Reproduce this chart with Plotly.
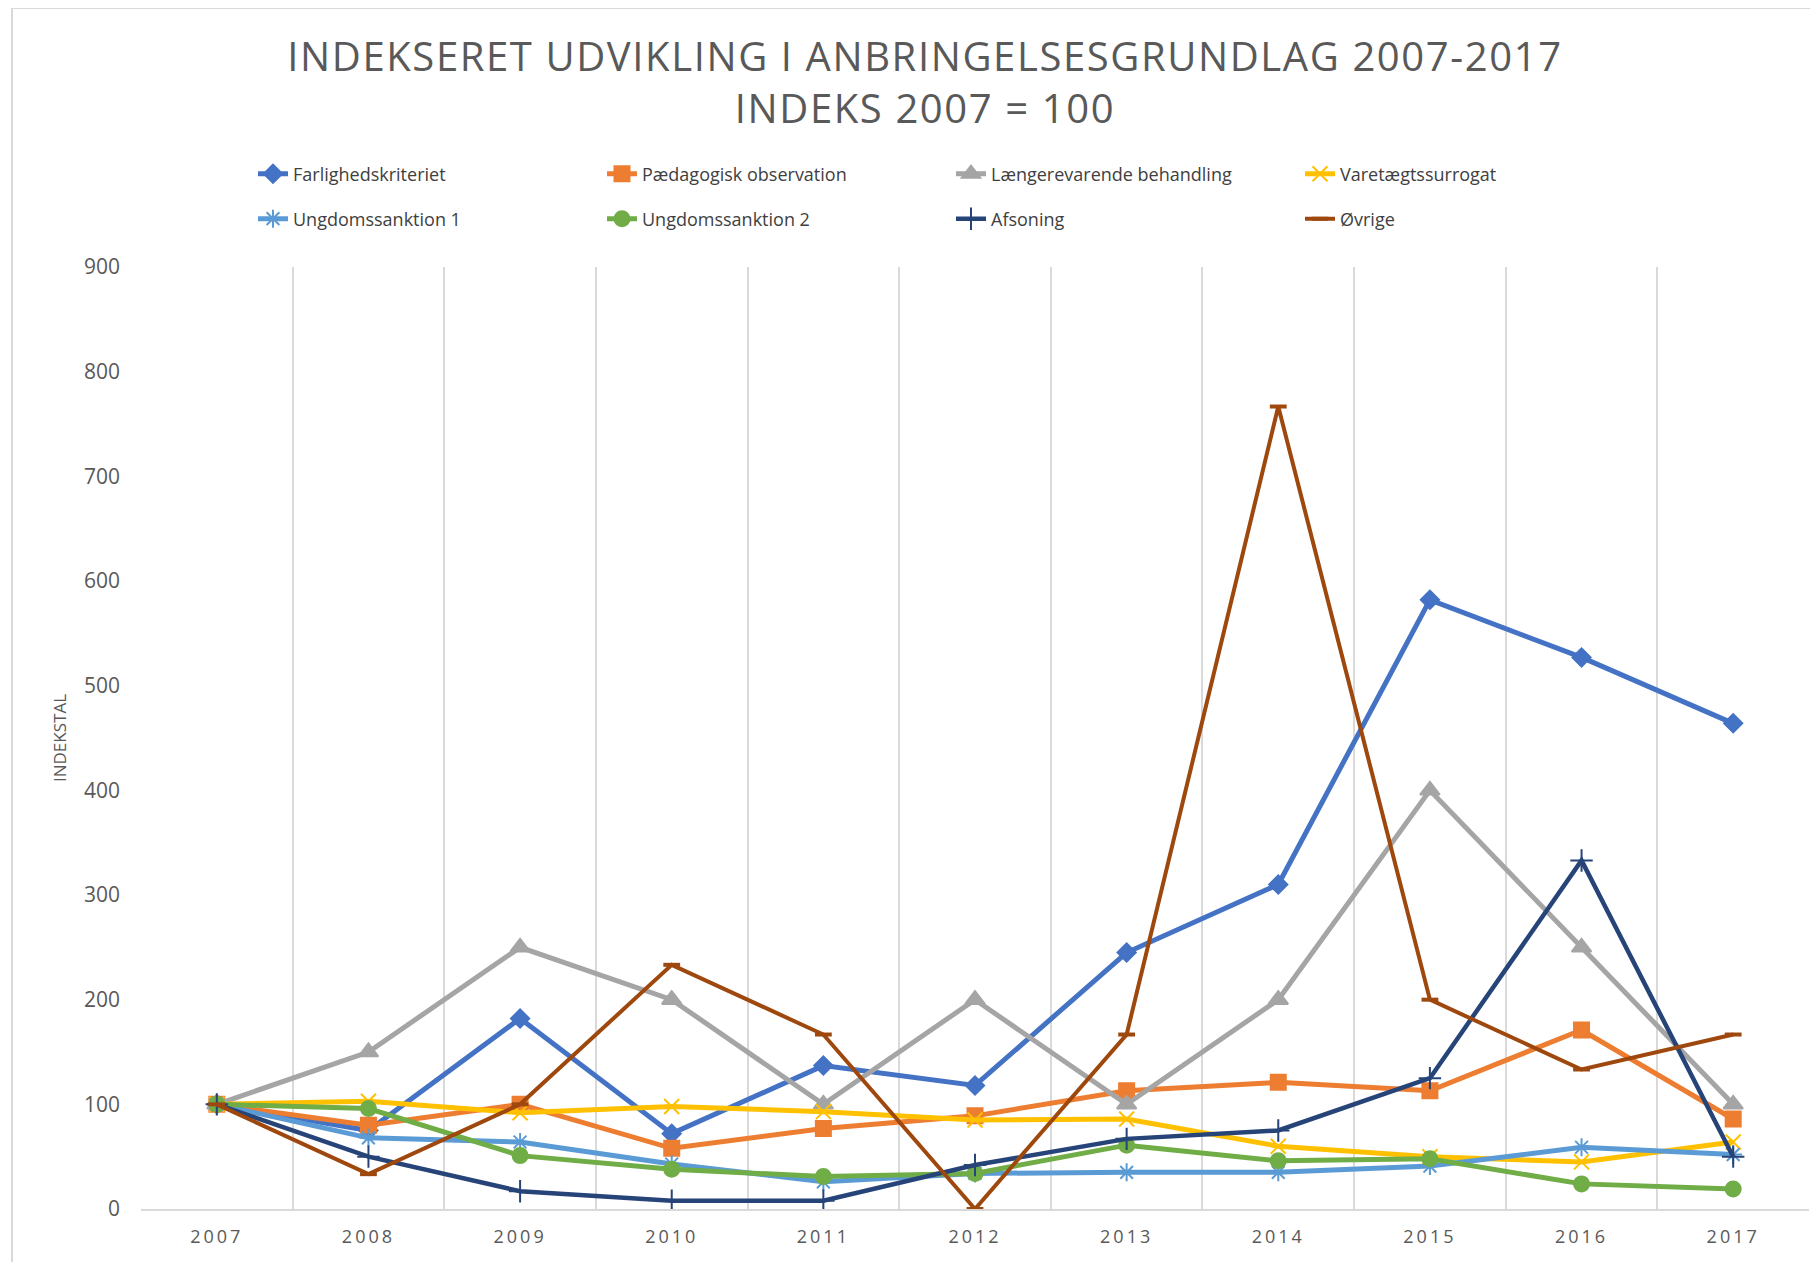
import plotly.graph_objects as go

years = ["2007", "2008", "2009", "2010", "2011", "2012", "2013", "2014", "2015", "2016", "2017"]

farlighed = [100, 75, 182, 72, 137, 118, 245, 310, 582, 527, 464]
paedagogisk = [100, 80, 100, 58, 77, 89, 113, 121, 113, 171, 86]
laengere = [100, 150, 250, 200, 100, 200, 100, 200, 400, 250, 100]
varetaegt = [100, 103, 92, 98, 93, 85, 86, 60, 50, 45, 64]
ungdom1 = [100, 68, 64, 43, 26, 34, 35, 35, 41, 59, 52]
ungdom2 = [100, 96, 51, 38, 31, 34, 61, 46, 48, 24, 19]
afsoning = [100, 50, 17, 8, 8, 42, 67, 75, 125, 333, 50]
oevrige = [100, 33.3, 100, 233.3, 166.7, 0, 166.7, 766.7, 200, 133.3, 166.7]

series_names = ["Farlighedskriteriet", "Pædagogisk observation", "Længerevarende behandling",
                "Varetægtssurrogat", "Ungdomssanktion 1", "Ungdomssanktion 2", "Afsoning", "Øvrige"]
series_values = [farlighed, paedagogisk, laengere, varetaegt, ungdom1, ungdom2, afsoning, oevrige]
colors = ["#4472C4", "#ED7D31", "#A5A5A5", "#FFC000", "#5B9BD5", "#70AD47", "#264478", "#9E480E"]
symbols = ["diamond", "square", "triangle-up", "x-thin", "asterisk-open", "circle", "cross-thin", "line-ew"]
sizes = [14, 15, 17, 15, 15, 15, 16, 12]
widths = [5, 5, 5, 5, 5, 5, 4.5, 4]
marker_line_widths = [2, 2, 2, 2, 2, 2, 2, 4]

fig = go.Figure()
for i, (name, vals) in enumerate(zip(series_names, series_values)):
    fig.add_trace(go.Scatter(
        x=years, y=vals, name=name, mode="lines+markers",
        line=dict(color=colors[i], width=widths[i]),
        marker=dict(symbol=symbols[i], size=sizes[i], color=colors[i],
                    line=dict(color=colors[i], width=marker_line_widths[i])),
        legend="legend" if i < 4 else "legend2",
    ))

# page has an 8px body margin; figure coordinates are page coordinates minus 8
W, H = 1810, 1254
L, R, T, B = 133, 1801, 259, 1201

leg_common = dict(orientation="h", xref="container", yref="container",
                  xanchor="left", yanchor="middle", entrywidth=304, entrywidthmode="pixels",
                  font=dict(family="Open Sans", size=18, color="#404040"),
                  bgcolor="rgba(0,0,0,0)", borderwidth=0, itemclick=False)

title_text = ('<span style="letter-spacing:1.6px">INDEKSERET UDVIKLING I ANBRINGELSESGRUNDLAG 2007-2017</span>'
              '<br><span style="letter-spacing:1.6px">INDEKS 2007 = 100</span>')
tick_text = ['<span style="letter-spacing:3px">%s</span>' % y for y in years]

fig.update_layout(
    width=W, height=H,
    margin=dict(l=L, r=W - R, t=T, b=H - B, autoexpand=False),
    paper_bgcolor="white", plot_bgcolor="white",
    font=dict(family="Open Sans", color="#595959"),
    title=dict(text=title_text,
               x=917 / W, xref="container", xanchor="center",
               y=1 - 63 / H, yref="container", yanchor="middle",
               font=dict(family="Open Sans", size=40, color="#595959")),
    legend=dict(leg_common, x=245 / W, y=1 - 166 / H),
    legend2=dict(leg_common, x=245 / W, y=1 - 211 / H),
    xaxis=dict(type="category", range=[-0.5, 10.5], tickson="boundaries",
               tickmode="array", tickvals=years, ticktext=tick_text,
               showgrid=True, gridcolor="#D9D9D9", gridwidth=1.5,
               showline=True, linecolor="#D9D9D9", linewidth=2, ticks="", zeroline=False, automargin=False,
               tickfont=dict(family="Open Sans", size=18, color="#595959"), ticklabelstandoff=10),
    yaxis=dict(range=[0, 900], tickvals=[0, 100, 200, 300, 400, 500, 600, 700, 800, 900],
               showgrid=False, zeroline=False, showline=False, ticks="", automargin=False,
               tickfont=dict(family="Open Sans", size=21, color="#595959"), ticklabelstandoff=20,
               title=dict(text="INDEKSTAL", font=dict(family="Open Sans", size=17, color="#595959"),
                          standoff=13)),
    showlegend=True,
)

# chart-area frame (left and top edges visible)
fig.add_shape(type="rect", xref="paper", yref="paper",
              x0=(4 - L) / (R - L), x1=(1840 - L) / (R - L),
              y0=(B - 1300) / (B - T), y1=(B - 0) / (B - T),
              line=dict(color="#D9D9D9", width=2), fillcolor="rgba(0,0,0,0)", layer="below")

fig.write_html("out.html")
